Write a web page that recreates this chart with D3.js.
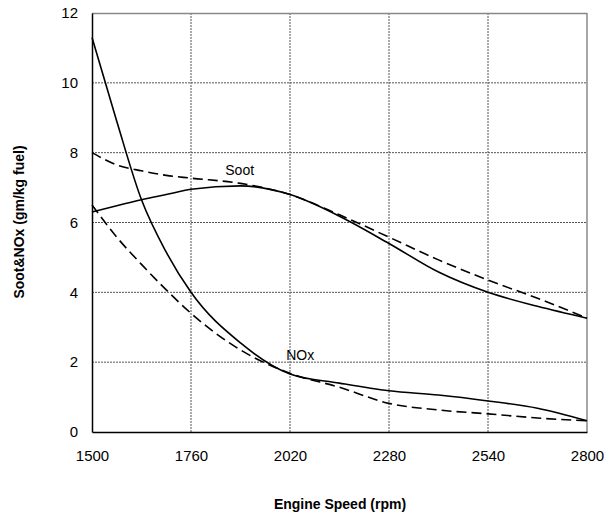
<!DOCTYPE html>
<html>
<head>
<meta charset="utf-8">
<script src="https://cdn.jsdelivr.net/npm/d3@7"></script>
<style>
  body { margin: 0; background: #fff; }
  text { font-family: "Liberation Sans", Arial, sans-serif; fill: #000; }
  .grid line { stroke: #555; stroke-dasharray: 2,1; stroke-width: 1; }
</style>
</head>
<body>
<div id="chart"></div>
<script>
// data
var rpm        = [1500, 1565, 1630, 1695, 1760, 1890, 2020, 2150, 2280, 2410, 2540, 2670, 2800];
var sootSolid  = [6.3, 6.48, 6.65, 6.8, 6.95, 7.05, 6.8, 6.18, 5.4, 4.58, 4.0, 3.6, 3.26];
var sootDashed = [8.0, 7.65, 7.48, 7.35, 7.27, 7.12, 6.8, 6.22, 5.58, 4.93, 4.35, 3.83, 3.26];
var noxSolid   = [11.3, 8.9, 6.65, 5.15, 4.0, 2.55, 1.66, 1.4, 1.18, 1.06, 0.89, 0.68, 0.32];
var noxDashed  = [6.5, 5.58, 4.8, 4.07, 3.4, 2.35, 1.68, 1.28, 0.82, 0.63, 0.52, 0.4, 0.32];
var xTicks = [1500, 1760, 2020, 2280, 2540, 2800];
var yTicks = [0, 2, 4, 6, 8, 10, 12];

var margin = { top: 13, right: 20, bottom: 85, left: 92 },
    width = 587 - margin.left,
    height = 432 - margin.top;

var scalex = d3.scaleLinear().domain([1500, 2800]).range([0, width]);
var scaley = d3.scaleLinear().domain([0, 12]).range([height, 0]);

var svg = d3.select("#chart").append("svg")
    .attr("width", 607)
    .attr("height", 517);

var g = svg.append("g")
    .attr("transform", "translate(" + margin.left + "," + margin.top + ")");

// grid
g.append("g").attr("class", "grid")
    .selectAll("line").data(yTicks.slice(1, -1)).enter().append("line")
    .attr("x1", 0).attr("x2", width)
    .attr("y1", function (d) { return scaley(d); })
    .attr("y2", function (d) { return scaley(d); });

g.append("g").attr("class", "grid")
    .selectAll("line").data(xTicks.slice(1, -1)).enter().append("line")
    .attr("y1", 0).attr("y2", height)
    .attr("x1", function (d) { return scalex(d); })
    .attr("x2", function (d) { return scalex(d); });

// frame: top and right in grey, axes in black
g.append("line").attr("x1", 0).attr("x2", width).attr("y1", 0.5).attr("y2", 0.5)
    .attr("stroke", "#888").attr("stroke-width", 1.5);
g.append("line").attr("x1", width).attr("x2", width).attr("y1", 0).attr("y2", height)
    .attr("stroke", "#888").attr("stroke-width", 1.5);

// axes
var xAxis = g.append("g")
    .attr("transform", "translate(0," + height + ")")
    .call(d3.axisBottom(scalex).tickValues(xTicks).tickSize(0).tickPadding(18).tickFormat(d3.format("d")));
xAxis.select(".domain").attr("stroke", "#000").attr("stroke-width", 1.5);
xAxis.selectAll("text").style("font-size", "15px");

var yAxis = g.append("g")
    .call(d3.axisLeft(scaley).tickValues(yTicks).tickSize(0).tickPadding(14));
yAxis.select(".domain").attr("stroke", "#000").attr("stroke-width", 1.5);
yAxis.selectAll("text").style("font-size", "15px");

// lines
var lines = [
    { values: sootSolid, dash: null },
    { values: sootDashed, dash: "10,5" },
    { values: noxSolid, dash: null },
    { values: noxDashed, dash: "10,5" }
];

var valueline = d3.line()
    .x(function (d) { return scalex(d[0]); })
    .y(function (d) { return scaley(d[1]); })
    .curve(d3.curveMonotoneX);

lines.forEach(function (l) {
    g.append("path")
        .datum(d3.zip(rpm, l.values))
        .attr("fill", "none")
        .attr("stroke", "#000")
        .attr("stroke-width", 1.6)
        .attr("stroke-dasharray", l.dash)
        .attr("d", valueline);
});

// series labels
g.append("text").attr("x", scalex(1850)).attr("y", scaley(7.35))
    .style("font-size", "14px").text("Soot");
g.append("text").attr("x", scalex(2010)).attr("y", scaley(2.05))
    .style("font-size", "14px").text("NOx");

// axis titles
svg.append("text")
    .attr("x", 340).attr("y", 509)
    .attr("text-anchor", "middle")
    .style("font-size", "14px").style("font-weight", "bold")
    .text("Engine Speed (rpm)");

svg.append("text")
    .attr("transform", "translate(24,222) rotate(-90)")
    .attr("text-anchor", "middle")
    .style("font-size", "14px").style("font-weight", "bold")
    .text("Soot&NOx (gm/kg fuel)");
</script>
</body>
</html>
